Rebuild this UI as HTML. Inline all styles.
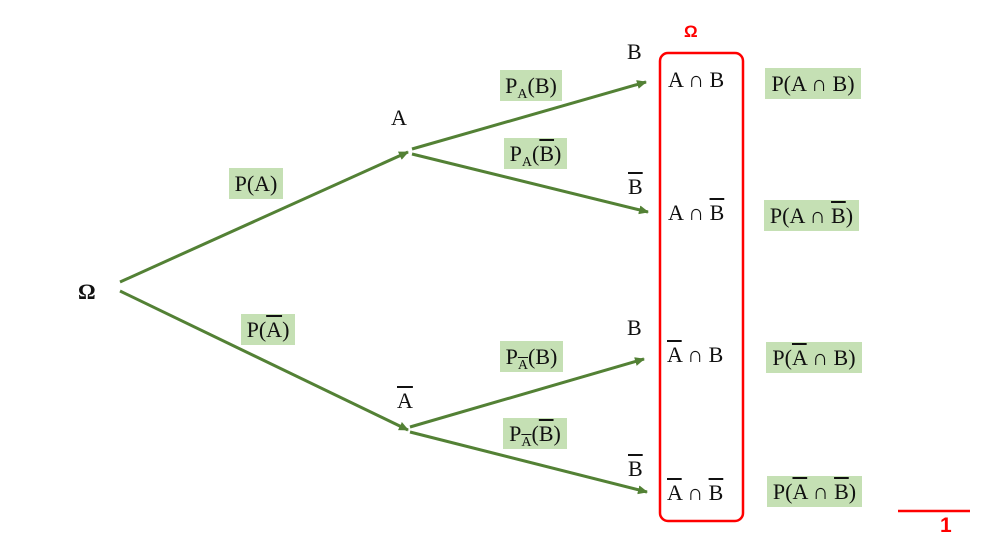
<!DOCTYPE html>
<html><head><meta charset="utf-8"><style>
html,body{margin:0;padding:0;background:#fff;}
#c{position:relative;width:1000px;height:541px;overflow:hidden;font-family:"Liberation Serif",serif;color:#111;}
.t{position:absolute;font-size:22px;line-height:24px;white-space:nowrap;}
.g{position:absolute;background:#c5e0b4;font-size:22px;line-height:31px;white-space:nowrap;padding:0;box-sizing:border-box;text-align:center;}
.o{text-decoration:overline;}
sub{font-size:14px;vertical-align:-5px;line-height:0;}
svg{position:absolute;left:0;top:0;}
</style></head><body><div id="c">
<svg width="1000" height="541">
<defs><marker id="ar" markerWidth="10" markerHeight="9" refX="9" refY="4.5" orient="auto" markerUnits="userSpaceOnUse"><path d="M0,0 L10,4.5 L0,9 z" fill="#538135"/></marker></defs>
<g stroke="#538135" stroke-width="3" fill="none">
<line x1="120" y1="282" x2="408" y2="152" marker-end="url(#ar)"/>
<line x1="120" y1="291" x2="408" y2="430" marker-end="url(#ar)"/>
<line x1="412" y1="149" x2="646" y2="82" marker-end="url(#ar)"/>
<line x1="412" y1="154" x2="648" y2="212" marker-end="url(#ar)"/>
<line x1="410" y1="427" x2="644" y2="359" marker-end="url(#ar)"/>
<line x1="410" y1="432" x2="647" y2="492" marker-end="url(#ar)"/>
</g>
<rect x="660" y="53" width="83" height="468" rx="8" fill="none" stroke="#f00" stroke-width="2.5"/>
<line x1="898" y1="511" x2="970" y2="511" stroke="#f00" stroke-width="2.5"/>
</svg>
<div class="t" style="left:78px;top:280px;font-weight:bold;">Ω</div>
<div class="t" style="left:391px;top:106px;">A</div>
<div class="t" style="left:397px;top:389px;"><span class="o">A</span></div>
<div class="t" style="left:627px;top:40px;">B</div>
<div class="t" style="left:628px;top:175px;"><span class="o">B</span></div>
<div class="t" style="left:627px;top:316px;">B</div>
<div class="t" style="left:628px;top:457px;"><span class="o">B</span></div>
<div class="t" style="left:684px;top:20px;color:#f00;font-weight:bold;font-family:'Liberation Sans',sans-serif;font-size:17px;">Ω</div>
<div class="t" style="left:668px;top:68px;">A ∩ B</div>
<div class="t" style="left:668px;top:201px;">A ∩ <span class="o">B</span></div>
<div class="t" style="left:667px;top:343px;"><span class="o">A</span> ∩ B</div>
<div class="t" style="left:667px;top:481px;"><span class="o">A</span> ∩ <span class="o">B</span></div>
<div class="g" style="left:229px;top:168px;width:54px;">P(A)</div>
<div class="g" style="left:241px;top:314px;width:54px;">P(<span class="o">A</span>)</div>
<div class="g" style="left:500px;top:70px;width:62px;">P<sub>A</sub>(B)</div>
<div class="g" style="left:504px;top:138px;width:63px;">P<sub>A</sub>(<span class="o">B</span>)</div>
<div class="g" style="left:500px;top:341px;width:63px;">P<sub><span class="o">A</span></sub>(B)</div>
<div class="g" style="left:503px;top:418px;width:64px;">P<sub><span class="o">A</span></sub>(<span class="o">B</span>)</div>
<div class="g" style="left:765px;top:68px;width:96px;">P(A ∩ B)</div>
<div class="g" style="left:764px;top:200px;width:95px;">P(A ∩ <span class="o">B</span>)</div>
<div class="g" style="left:766px;top:342px;width:96px;">P(<span class="o">A</span> ∩ B)</div>
<div class="g" style="left:767px;top:476px;width:95px;">P(<span class="o">A</span> ∩ <span class="o">B</span>)</div>
<div class="t" style="left:940px;top:514px;color:#f00;font-weight:bold;font-family:'Liberation Sans',sans-serif;font-size:21px;">1</div>
</div></body></html>
